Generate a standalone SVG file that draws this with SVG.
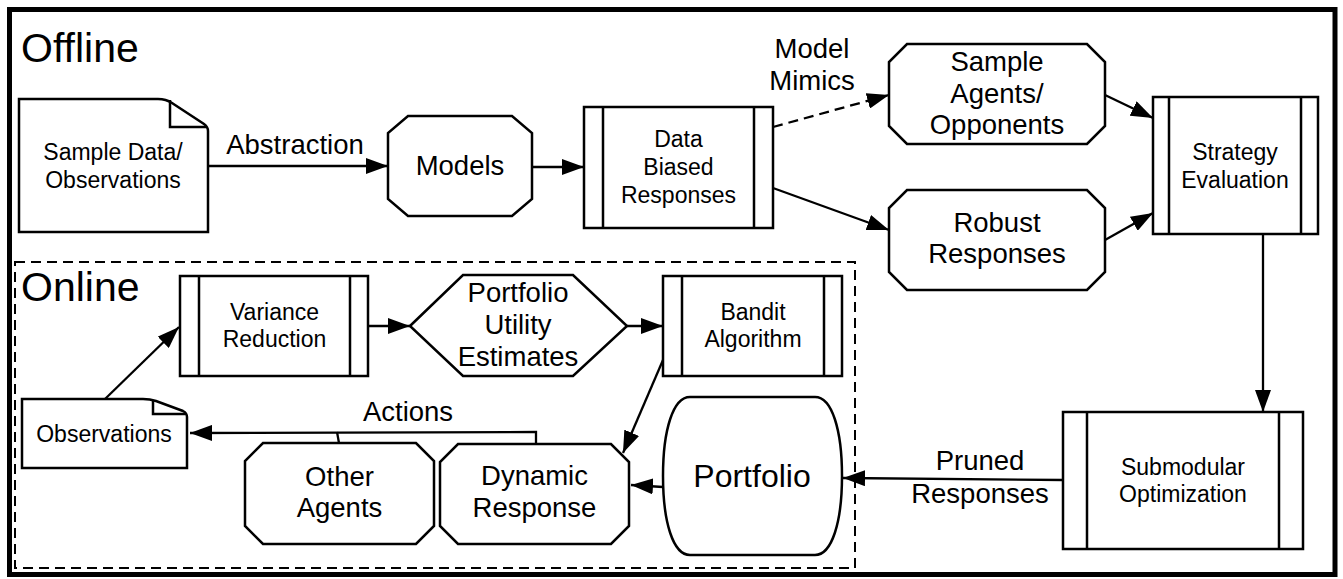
<svg xmlns="http://www.w3.org/2000/svg" width="1343" height="579" viewBox="0 0 1343 579">
<style>
text{font-family:"Liberation Sans",Arial,Helvetica,sans-serif;fill:#000;text-anchor:middle}
.s{font-size:23px}
.l{font-size:27.5px}
.t{font-size:41px;text-anchor:start}
.n{fill:#fff;stroke:#000;stroke-width:2.5;stroke-linejoin:miter}
.v{fill:none;stroke:#000;stroke-width:2.5}
.c{fill:none;stroke:#000;stroke-width:2.3}
.d{stroke-dasharray:10 6}
</style>
<defs>
<marker id="ah" markerUnits="userSpaceOnUse" markerWidth="22" markerHeight="16" refX="22" refY="8" orient="auto">
<path d="M0,0 L22,8 L0,16 Z" fill="#000"/>
</marker>
</defs>
<rect x="0" y="0" width="1343" height="579" fill="#fff"/>
<rect x="9.5" y="9.5" width="1325.5" height="565" fill="none" stroke="#000" stroke-width="5"/>
<rect x="15" y="262" width="840" height="306" fill="none" stroke="#000" stroke-width="2" stroke-dasharray="10 6"/>
<text class="t" x="21" y="62">Offline</text>
<text class="t" x="21" y="301">Online</text>

<g id="sample-data">
<path class="n" d="M19,99 H158 Q166,99 172,103 L204,124 Q208,127 208,131 V232 H19 Z"/>
<path class="v" d="M170,100 V127 H206"/>
<text class="s" x="113" y="160">Sample Data/</text>
<text class="s" x="113" y="188">Observations</text>
</g>
<g id="models">
<path class="n" d="M408,116 H512 L532,133 V199 L512,216 H408 L388,199 V133 Z"/>
<text class="l" x="460" y="175">Models</text>
</g>
<g id="data-biased">
<rect class="n" x="584" y="107" width="189" height="121"/>
<path class="v" d="M603,107 V228 M754,107 V228"/>
<text class="s" x="678.5" y="147">Data</text>
<text class="s" x="678.5" y="175">Biased</text>
<text class="s" x="678.5" y="203">Responses</text>
</g>
<g id="sample-agents">
<path class="n" d="M907,44 H1087 L1105,62 V126 L1087,144 H907 L889,126 V62 Z"/>
<text class="l" x="997" y="71">Sample</text>
<text class="l" x="997" y="103">Agents/</text>
<text class="l" x="997" y="134">Opponents</text>
</g>
<g id="robust">
<path class="n" d="M907,190 H1087 L1105,208 V272 L1087,290 H907 L889,272 V208 Z"/>
<text class="l" x="997" y="232">Robust</text>
<text class="l" x="997" y="263">Responses</text>
</g>
<g id="strategy">
<rect class="n" x="1153" y="97" width="165" height="137"/>
<path class="v" d="M1169,97 V234 M1301,97 V234"/>
<text class="s" x="1235" y="160">Strategy</text>
<text class="s" x="1235" y="188">Evaluation</text>
</g>
<g id="submodular">
<rect class="n" x="1063" y="412" width="240" height="137"/>
<path class="v" d="M1087,412 V549 M1279,412 V549"/>
<text class="s" x="1183" y="475">Submodular</text>
<text class="s" x="1183" y="502">Optimization</text>
</g>
<g id="portfolio">
<path class="n" d="M690,397 H815 C832,397 842,430 842,476 C842,522 832,555 815,555 H690 C673,555 663,522 663,476 C663,430 673,397 690,397 Z"/>
<text x="752" y="487" style="font-size:32px">Portfolio</text>
</g>
<g id="variance">
<rect class="n" x="180" y="276" width="188" height="100"/>
<path class="v" d="M199,276 V376 M350,276 V376"/>
<text class="s" x="274.5" y="320">Variance</text>
<text class="s" x="274.5" y="347">Reduction</text>
</g>
<g id="utility">
<path class="n" d="M410,326 L463,275 H573 L627,326 L573,376 H463 Z"/>
<text class="l" x="518" y="302">Portfolio</text>
<text class="l" x="518" y="334">Utility</text>
<text class="l" x="518" y="366">Estimates</text>
</g>
<g id="bandit">
<rect class="n" x="663" y="276" width="179" height="100"/>
<path class="v" d="M682,276 V376 M824,276 V376"/>
<text class="s" x="753" y="320">Bandit</text>
<text class="s" x="753" y="347">Algorithm</text>
</g>
<g id="observations">
<path class="n" d="M22,399 H143 Q150,399 156,401 L183,411 Q187,413 187,417 V468 H22 Z"/>
<path class="v" d="M153,400 V414 H186"/>
<text class="s" x="104" y="442">Observations</text>
</g>
<g id="other-agents">
<path class="n" d="M263,443 H416 L434,461 V526 L416,544 H263 L245,526 V461 Z"/>
<text class="l" x="339.5" y="486">Other</text>
<text class="l" x="339.5" y="517">Agents</text>
</g>
<g id="dynamic">
<path class="n" d="M458,444 H611 L629,462 V526 L611,544 H458 L440,526 V462 Z"/>
<text class="l" x="534.5" y="485">Dynamic</text>
<text class="l" x="534.5" y="517">Response</text>
</g>

<g id="connectors">
<line class="c" x1="208" y1="166" x2="388" y2="166" marker-end="url(#ah)"/>
<line class="c" x1="532" y1="167" x2="584" y2="167" marker-end="url(#ah)"/>
<line class="c d" x1="773" y1="127" x2="889" y2="95" marker-end="url(#ah)"/>
<line class="c" x1="773" y1="188" x2="889" y2="230" marker-end="url(#ah)"/>
<line class="c" x1="1105" y1="95" x2="1153" y2="118" marker-end="url(#ah)"/>
<line class="c" x1="1105" y1="240" x2="1153" y2="213" marker-end="url(#ah)"/>
<line class="c" x1="1263" y1="234" x2="1263" y2="412" marker-end="url(#ah)"/>
<line class="c" x1="1063" y1="480" x2="843" y2="478" marker-end="url(#ah)"/>
<line class="c" x1="663" y1="487" x2="631" y2="485" marker-end="url(#ah)"/>
<line class="c" x1="663" y1="360" x2="623" y2="453" marker-end="url(#ah)"/>
<line class="c" x1="368" y1="326" x2="410" y2="326" marker-end="url(#ah)"/>
<line class="c" x1="627" y1="326" x2="663" y2="326" marker-end="url(#ah)"/>
<line class="c" x1="105" y1="399" x2="179" y2="327" marker-end="url(#ah)"/>
<polyline class="c" points="536,444 536,432 190,433" marker-end="url(#ah)"/>
<line class="c" x1="339" y1="443" x2="337" y2="432"/>
<text class="l" x="295" y="154">Abstraction</text>
<text class="l" x="812" y="58">Model</text>
<text class="l" x="812" y="90">Mimics</text>
<text class="l" x="980" y="470">Pruned</text>
<text class="l" x="980" y="503">Responses</text>
<text class="l" x="408" y="421">Actions</text>
</g>
</svg>
